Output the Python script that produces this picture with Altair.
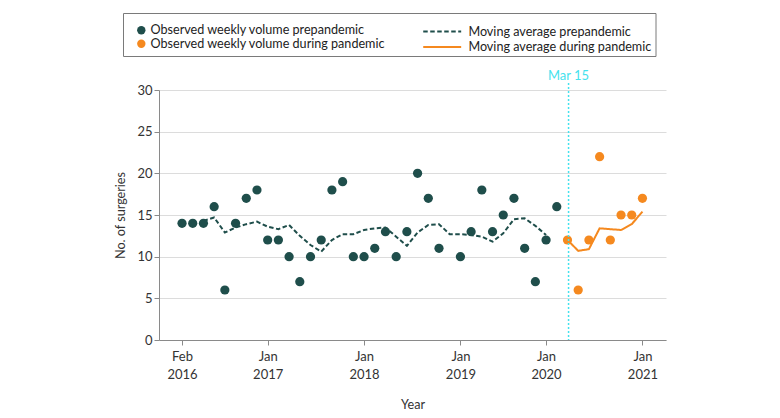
import altair as alt
import pandas as pd

# ---- data ----
S_PRE = "Observed weekly volume prepandemic"
S_PAN = "Observed weekly volume during pandemic"
M_PRE = "Moving average prepandemic"
M_PAN = "Moving average during pandemic"

pre_idx = [0, 1, 2, 3, 4, 5, 6, 7, 8, 9, 10, 11, 12, 13, 14, 15, 16, 17, 18, 19,
           20, 21, 22, 23, 24, 26, 27, 28, 29, 30, 31, 32, 33, 34, 35]
pre_vals = [14, 14, 14, 16, 6, 14, 17, 18, 12, 12, 10, 7, 10, 12, 18, 19, 10, 10, 11, 13,
            10, 13, 20, 17, 11, 10, 13, 18, 13, 15, 17, 11, 7, 12, 16]

pan_idx = [36, 37, 38, 39, 40, 41, 42, 43]
pan_vals = [12, 6, 12, 22, 12, 15, 15, 17]

ma_pre_idx = list(range(2, 35))
ma_pre_vals = [14.3, 14.7, 12.9, 13.5, 13.9, 14.2, 13.6, 13.3, 13.8, 12.5, 11.4, 10.6,
               12.0, 12.7, 12.7, 13.2, 13.4, 13.5, 12.4, 11.3, 12.9, 13.8, 13.9, 12.7,
               12.7, 12.6, 12.4, 11.8, 12.8, 14.5, 14.6, 13.7, 12.6]

ma_pan_idx = [36, 37, 38, 39, 40, 41, 42, 43]
ma_pan_vals = [12.0, 10.7, 10.9, 13.4, 13.3, 13.2, 13.9, 15.4]

tick_idx = [0, 8, 17, 26, 34, 43]
tick_month = ["Feb", "Jan", "Jan", "Jan", "Jan", "Jan"]
tick_year = ["2016", "2017", "2018", "2019", "2020", "2021"]

event_idx = [36.1]
event_label = ["Mar 15"]

# ---- styling ----
TEAL = "#1f4e4b"
ORANGE = "#f5891f"
CYAN = "#45e2ee"
FONT = "Lato"
FS = 12.6
W, H = 507, 250

pts = pd.DataFrame({
    "idx": pre_idx + pan_idx,
    "val": pre_vals + pan_vals,
    "series": [S_PRE] * len(pre_idx) + [S_PAN] * len(pan_idx),
})
ma = pd.DataFrame({
    "idx": ma_pre_idx + ma_pan_idx,
    "val": ma_pre_vals + ma_pan_vals,
    "series": [M_PRE] * len(ma_pre_idx) + [M_PAN] * len(ma_pan_idx),
})
ev = pd.DataFrame({"idx": event_idx, "label": event_label})

label_expr = " : ".join(
    f"datum.value == {v} ? ['{m}', '{y}']" for v, m, y in zip(tick_idx, tick_month, tick_year)
) + " : ''"

x_scale = alt.Scale(domain=[-2.15, 45.2], nice=False, zero=False)
y_scale = alt.Scale(domain=[0, 30], nice=False)

x_axis = alt.Axis(values=tick_idx, labelExpr=label_expr, grid=False, title="Year",
                  tickSize=5, labelPadding=5, labelLineHeight=18, titlePadding=17,
                  domainColor="#8a8a8a", tickColor="#8a8a8a", labelFontSize=13,
                  titleFontSize=FS, labelColor="#333", titleColor="#333",
                  titleFontWeight="normal", labelFlush=False)
y_axis = alt.Axis(values=[0, 5, 10, 15, 20, 25, 30], grid=True, gridColor="#dcdcdc",
                  title="No. of surgeries", tickSize=5, labelPadding=2, titlePadding=9,
                  domainColor="#8a8a8a", tickColor="#8a8a8a", labelFontSize=13,
                  titleFontSize=FS, labelColor="#333", titleColor="#333",
                  titleFontWeight="normal")

pt_legend = alt.Legend(orient="none", legendX=-24, legendY=-66, title=None,
                       symbolSize=70, symbolType="circle", labelFontSize=FS,
                       labelOffset=3, rowPadding=0.5, labelColor="#222",
                       symbolStrokeWidth=0, labelLimit=400)
ln_legend = alt.Legend(orient="none", legendX=275.7, legendY=-66, title=None,
                       symbolSize=160, symbolType="M-3,0H3", symbolStrokeWidth=2,
                       labelFontSize=FS, labelOffset=18.7, rowPadding=0.5,
                       labelColor="#222", labelLimit=400)

frame = alt.Chart(alt.Data(values=[{"a": 1}])).mark_rect(
    fill=None, stroke="#7a7a7a", strokeWidth=1
).encode(x=alt.value(-35.5), x2=alt.value(497), y=alt.value(-76.5), y2=alt.value(-33.5))

lines = alt.Chart(ma).mark_line(strokeWidth=2).encode(
    x=alt.X("idx:Q", scale=x_scale, axis=x_axis),
    y=alt.Y("val:Q", scale=y_scale, axis=y_axis),
    stroke=alt.Stroke("series:N", scale=alt.Scale(domain=[M_PRE, M_PAN], range=[TEAL, ORANGE]),
                      legend=ln_legend),
    strokeDash=alt.StrokeDash("series:N", scale=alt.Scale(domain=[M_PRE, M_PAN],
                                                          range=[[4.5, 2.5], [1, 0]]),
                              legend=ln_legend),
    detail="series:N",
)

points = alt.Chart(pts).mark_point(filled=True, size=85, opacity=1).encode(
    x=alt.X("idx:Q", scale=x_scale),
    y=alt.Y("val:Q", scale=y_scale),
    color=alt.Color("series:N", scale=alt.Scale(domain=[S_PRE, S_PAN], range=[TEAL, ORANGE]),
                    legend=pt_legend),
)

rule = alt.Chart(ev).mark_rule(color=CYAN, strokeDash=[2, 2], strokeWidth=1.5).encode(
    x=alt.X("idx:Q", scale=x_scale), y=alt.value(-7), y2=alt.value(H)
)
rule_text = alt.Chart(ev).mark_text(color=CYAN, fontSize=13, baseline="alphabetic",
                                    align="center").encode(
    x=alt.X("idx:Q", scale=x_scale), y=alt.value(-10), text="label:N"
)

chart = alt.layer(frame, lines, points, rule, rule_text).properties(
    width=W, height=H,
    autosize=alt.AutoSizeParams(type="none"),
    padding={"left": 151, "top": 82, "right": 100, "bottom": 70},
).configure(font=FONT).configure_view(stroke=None)

chart.save("out.html", embed_options={"renderer": "svg", "actions": False})
